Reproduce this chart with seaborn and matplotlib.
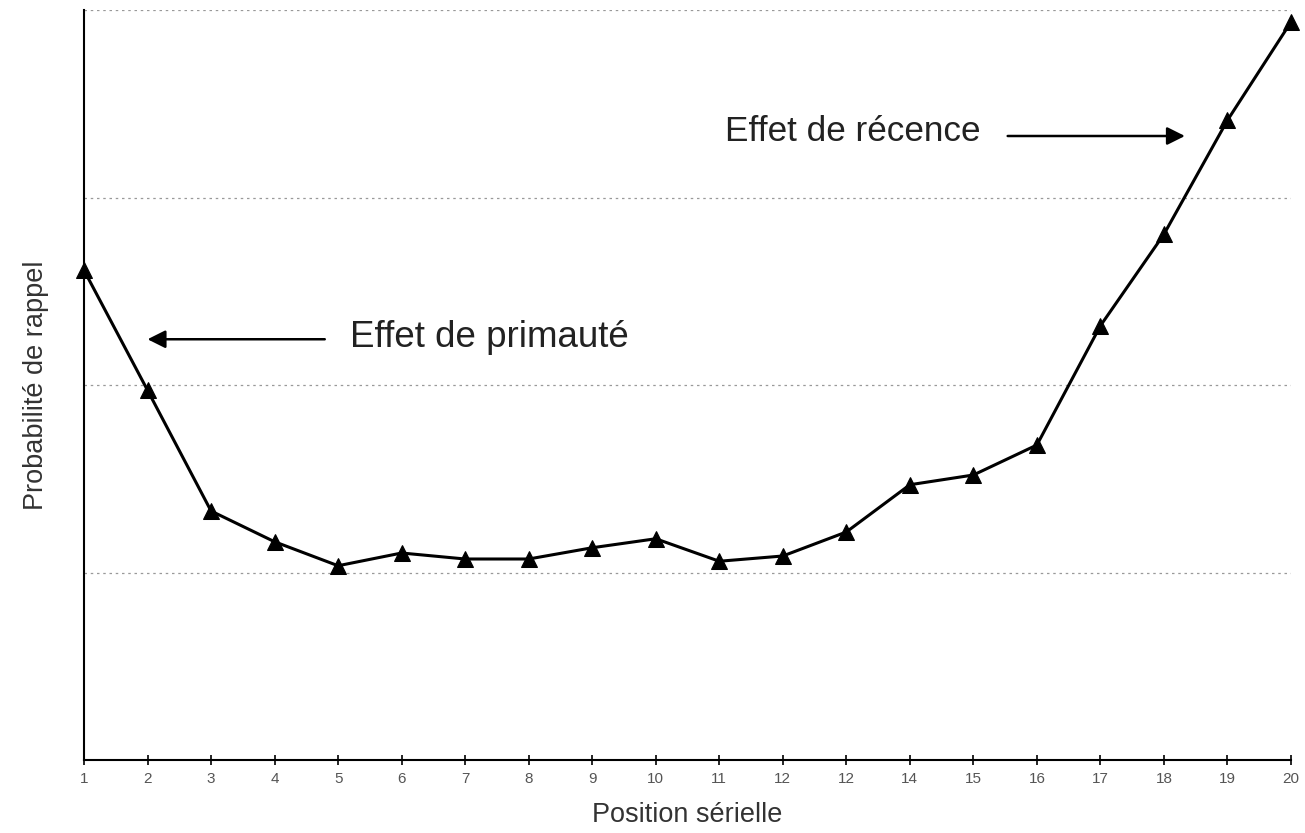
import matplotlib
matplotlib.use("Agg")
import matplotlib.pyplot as plt
import seaborn as sns
import pandas as pd

positions = list(range(1, 21))
recall = [0.653, 0.493, 0.332, 0.291, 0.259, 0.276, 0.268, 0.268, 0.283, 0.295,
          0.265, 0.272, 0.304, 0.367, 0.380, 0.420, 0.579, 0.701, 0.853, 0.984]
tick_labels = ["1", "2", "3", "4", "5", "6", "7", "8", "9", "10",
               "11", "12", "12", "14", "15", "16", "17", "18", "19", "20"]
grid_levels = [0.25, 0.5, 0.75, 1.0]

sns.set_style("white")
plt.rcParams['font.family'] = ['Liberation Sans', 'DejaVu Sans']

df = pd.DataFrame({"position": positions, "recall": recall})

fig = plt.figure(figsize=(13.05, 8.33), dpi=100)
ax = fig.add_axes([84/1305, 73/833, (1291-84)/1305, 750/833])

sns.lineplot(data=df, x="position", y="recall", ax=ax, color="black",
             linewidth=2.2, marker="^", markersize=11, markeredgecolor="black",
             markerfacecolor="black", clip_on=False, zorder=5)

ax.set_xlim(1, 20)
ax.set_ylim(0, 1)
ax.set_xticks(positions)
ax.set_xticklabels(tick_labels, fontsize=11, color="#555555")
ax.set_yticks(grid_levels)
ax.set_yticklabels([])
ax.tick_params(axis="y", length=0, left=False)
ax.tick_params(axis="x", bottom=True, direction="inout", length=7, width=1.2,
               color="black", pad=5)
ax.yaxis.grid(True, linestyle=(0, (2, 3)), color="#999999", linewidth=0.9)
ax.xaxis.grid(False)

for s in ["top", "right"]:
    ax.spines[s].set_visible(False)
for s in ["left", "bottom"]:
    ax.spines[s].set_color("black")
    ax.spines[s].set_linewidth(1.5)

ax.set_xlabel("Position sérielle", fontsize=19.5, color="#333333", labelpad=12)
ax.set_ylabel("Probabilité de rappel", fontsize=19.5, color="#333333", labelpad=22)

arrow_style = "-|>,head_length=0.6,head_width=0.3"
ax.annotate("", xy=(2.0, 0.561), xytext=(4.79, 0.561),
            arrowprops=dict(arrowstyle=arrow_style, color="black", lw=1.8,
                            mutation_scale=18, shrinkA=0, shrinkB=0))
ax.text(5.19, 0.563, "Effet de primauté", fontsize=26.5, color="#222222",
        va="center", ha="left")

ax.annotate("", xy=(18.33, 0.832), xytext=(15.54, 0.832),
            arrowprops=dict(arrowstyle=arrow_style, color="black", lw=1.8,
                            mutation_scale=18, shrinkA=0, shrinkB=0))
ax.text(11.09, 0.838, "Effet de récence", fontsize=25.3, color="#222222",
        va="center", ha="left")

fig.savefig("out.png", dpi=100)
